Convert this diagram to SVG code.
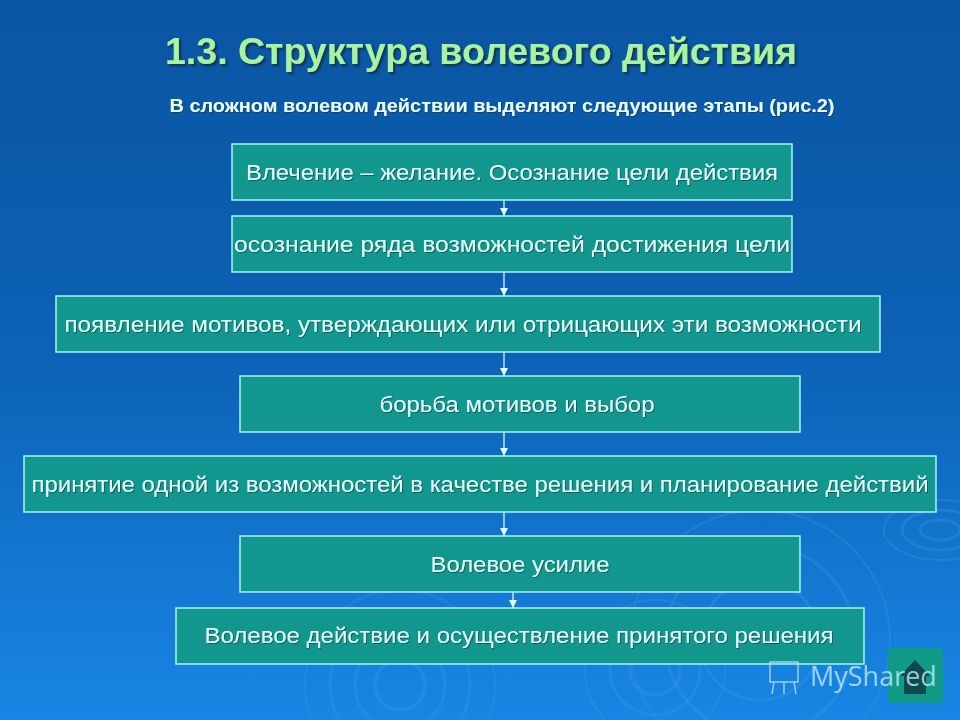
<svg xmlns="http://www.w3.org/2000/svg" width="960" height="720" viewBox="0 0 960 720">
<defs>
<linearGradient id="bg" x1="0" y1="0" x2="0" y2="1">
<stop offset="0" stop-color="#0a55a2"/>
<stop offset="0.5" stop-color="#0c62b6"/>
<stop offset="1" stop-color="#1886e4"/>
</linearGradient>
<filter id="ts" x="-5%" y="-30%" width="110%" height="160%">
<feDropShadow dx="2" dy="2" stdDeviation="0.8" flood-color="#0a2a40" flood-opacity="0.85"/>
</filter>
<filter id="ts2" x="-5%" y="-30%" width="110%" height="160%">
<feDropShadow dx="1" dy="1" stdDeviation="0.5" flood-color="#0a3040" flood-opacity="0.6"/>
</filter>
<marker id="ah" viewBox="0 0 10 10" refX="10" refY="5" markerWidth="8" markerHeight="8" markerUnits="userSpaceOnUse" orient="auto">
<path d="M0,0 L10,5 L0,10 z" fill="#e8ffff"/>
</marker>
</defs>
<style>
.box{fill:#12978f;stroke:#a8f4f0;stroke-width:1.5}
.lbl{font-family:"Liberation Sans",Arial,sans-serif;font-size:22px;fill:#e4ffff;text-anchor:middle;filter:url(#ts2)}
.conn{stroke:#e8ffff;stroke-width:1.2;fill:none}
.rip{fill:none;stroke:#3a9ae8;stroke-opacity:0.3}
</style>
<rect x="0" y="0" width="960" height="720" fill="url(#bg)"/>
<g id="ripples">
<g transform="translate(940,530)">
<ellipse class="rip" rx="20" ry="10" stroke-width="3"/>
<ellipse class="rip" rx="38" ry="20" stroke-width="3"/>
<ellipse class="rip" rx="56" ry="30" stroke-width="2"/>
</g>
<g transform="translate(400,685)">
<circle class="rip" r="25" stroke-width="4"/>
<circle class="rip" r="45" stroke-width="3"/>
<circle class="rip" r="70" stroke-width="3"/>
<circle class="rip" r="95" stroke-width="2"/>
</g>
<g transform="translate(655,670)">
<circle class="rip" r="25" stroke-width="4"/>
<circle class="rip" r="45" stroke-width="3"/>
<circle class="rip" r="70" stroke-width="2"/>
</g>
<g transform="translate(760,640)">
<circle class="rip" r="60" stroke-width="3"/>
<circle class="rip" r="95" stroke-width="3"/>
<circle class="rip" r="130" stroke-width="2"/>
</g>
</g>
<g id="title">
<text x="481" y="64" font-family="'Liberation Sans',Arial,sans-serif" font-size="36" font-weight="bold" fill="#a8f2a0" text-anchor="middle" textLength="632" lengthAdjust="spacingAndGlyphs" filter="url(#ts)">1.3. Структура волевого действия</text>
</g>
<g id="subtitle">
<text x="502" y="112" font-family="'Liberation Sans',Arial,sans-serif" font-size="18" font-weight="bold" fill="#e8ffff" text-anchor="middle" textLength="665" lengthAdjust="spacingAndGlyphs" filter="url(#ts2)">В сложном волевом действии выделяют следующие этапы (рис.2)</text>
</g>
<g id="connectors">
<line class="conn" x1="504" y1="200" x2="504" y2="216" marker-end="url(#ah)"/>
<line class="conn" x1="504" y1="272" x2="504" y2="296" marker-end="url(#ah)"/>
<line class="conn" x1="504" y1="352" x2="504" y2="376" marker-end="url(#ah)"/>
<line class="conn" x1="504" y1="432" x2="504" y2="456" marker-end="url(#ah)"/>
<line class="conn" x1="504" y1="512" x2="504" y2="536" marker-end="url(#ah)"/>
<line class="conn" x1="513" y1="592" x2="513" y2="608" marker-end="url(#ah)"/>
</g>
<g id="n1">
<rect class="box" x="232" y="144" width="560" height="56"/>
<text class="lbl" x="512" y="180" textLength="532" lengthAdjust="spacingAndGlyphs">Влечение – желание. Осознание цели действия</text>
</g>
<g id="n2">
<rect class="box" x="232" y="216" width="560" height="56"/>
<text class="lbl" x="512" y="252" textLength="556" lengthAdjust="spacingAndGlyphs">осознание ряда возможностей достижения цели</text>
</g>
<g id="n3">
<rect class="box" x="56" y="296" width="824" height="56"/>
<text class="lbl" x="463" y="332" textLength="797" lengthAdjust="spacingAndGlyphs">появление мотивов, утверждающих  или отрицающих эти возможности</text>
</g>
<g id="n4">
<rect class="box" x="240" y="376" width="560" height="56"/>
<text class="lbl" x="517" y="412" textLength="275" lengthAdjust="spacingAndGlyphs">борьба мотивов и выбор</text>
</g>
<g id="n5">
<rect class="box" x="24" y="456" width="912" height="56"/>
<text class="lbl" x="480" y="492" textLength="897" lengthAdjust="spacingAndGlyphs">принятие одной из возможностей в качестве решения и планирование действий</text>
</g>
<g id="n6">
<rect class="box" x="240" y="536" width="560" height="56"/>
<text class="lbl" x="520" y="572" textLength="179" lengthAdjust="spacingAndGlyphs">Волевое усилие</text>
</g>
<g id="n7">
<rect class="box" x="176" y="608" width="688" height="56"/>
<text class="lbl" x="519" y="643" textLength="629" lengthAdjust="spacingAndGlyphs">Волевое  действие и осуществление принятого решения</text>
</g>
<g id="home">
<rect x="888" y="648" width="55" height="55" fill="#129a88"/>
<path d="M900,676 L915,660 L930,676 L926,676 L926,694 L904,694 L904,676 Z" fill="#0b4a4e"/>
</g>
<g id="watermark" opacity="0.75">
<rect x="770" y="662" width="28" height="20" fill="none" stroke="#bfeeff" stroke-width="1.5"/>
<path d="M774,682 L772,694 M794,682 L796,694 M784,682 L784,694" stroke="#bfeeff" stroke-width="1.5"/>
<text x="810" y="686" font-family="'Open Sans','Liberation Sans',sans-serif" font-size="27" fill="#c8f0ff">MyShared</text>
</g>
</svg>
